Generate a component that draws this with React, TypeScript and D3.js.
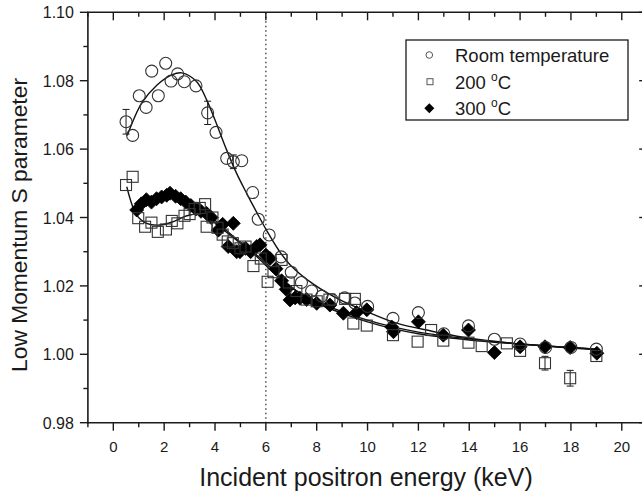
import React from "react";
import * as d3 from "d3";

// ---- Data ----
// [energy keV, S, error]
const roomTemp: [number, number, number][] = [
  [0.5, 1.068, 0.0036], [0.76, 1.064, 0], [1.02, 1.0756, 0], [1.29, 1.0722, 0],
  [1.51, 1.0828, 0], [1.77, 1.0756, 0], [2.06, 1.0851, 0], [2.27, 1.0799, 0],
  [2.53, 1.082, 0], [2.79, 1.0797, 0], [3.25, 1.0785, 0], [3.71, 1.0706, 0.0034],
  [4.04, 1.0649, 0], [4.46, 1.0573, 0], [4.72, 1.0563, 0.002], [5.05, 1.0566, 0],
  [5.48, 1.0473, 0], [5.7, 1.0395, 0], [6.13, 1.0349, 0], [6.6, 1.0285, 0],
  [7.0, 1.024, 0], [7.4, 1.021, 0], [7.8, 1.0185, 0], [8.2, 1.017, 0],
  [8.6, 1.016, 0], [9.1, 1.0165, 0], [9.5, 1.015, 0], [10.0, 1.014, 0],
  [11.0, 1.0105, 0], [12.0, 1.0122, 0], [13.0, 1.006, 0], [13.97, 1.0083, 0],
  [14.99, 1.0044, 0], [16.0, 1.003, 0], [17.0, 1.002, 0], [18.0, 1.002, 0],
  [19.0, 1.0015, 0],
];

const temp200: [number, number, number][] = [
  [0.5, 1.0495, 0], [0.76, 1.0519, 0], [0.98, 1.0398, 0], [1.25, 1.0373, 0],
  [1.5, 1.0385, 0], [1.75, 1.0358, 0], [2.07, 1.0365, 0], [2.3, 1.039, 0],
  [2.52, 1.0383, 0], [2.8, 1.0405, 0], [3.0, 1.041, 0], [3.2, 1.0425, 0],
  [3.4, 1.0428, 0], [3.61, 1.0439, 0], [3.67, 1.0373, 0], [3.9, 1.04, 0],
  [4.1, 1.037, 0], [4.3, 1.035, 0], [4.5, 1.033, 0], [4.7, 1.0325, 0],
  [5.0, 1.031, 0], [5.2, 1.0315, 0], [5.51, 1.0258, 0], [5.8, 1.028, 0],
  [6.07, 1.0212, 0], [6.3, 1.024, 0], [6.62, 1.0276, 0], [6.9, 1.021, 0],
  [7.2, 1.0185, 0], [7.6, 1.016, 0], [8.0, 1.0155, 0], [8.5, 1.016, 0],
  [9.12, 1.0162, 0], [9.5, 1.0162, 0], [9.44, 1.009, 0], [9.97, 1.0084, 0],
  [11.0, 1.0056, 0], [11.97, 1.0037, 0], [12.5, 1.0071, 0], [12.98, 1.004, 0],
  [13.97, 1.0034, 0], [14.49, 1.0024, 0], [15.48, 1.0032, 0], [16.0, 1.001, 0],
  [16.98, 0.9974, 0.002], [17.97, 0.993, 0.0023], [19.0, 0.9995, 0],
];

const temp300: [number, number][] = [
  [0.92, 1.0422], [1.1, 1.044], [1.3, 1.0452], [1.5, 1.0445], [1.7, 1.0455],
  [1.9, 1.046], [2.1, 1.0465], [2.23, 1.0471], [2.45, 1.0462], [2.65, 1.0455],
  [2.85, 1.0445], [3.05, 1.0435], [3.25, 1.0425], [3.45, 1.0418], [3.67, 1.0412],
  [3.85, 1.04], [4.13, 1.0363], [4.3, 1.038], [4.52, 1.0315], [4.72, 1.0383],
  [4.85, 1.03], [4.98, 1.03], [5.2, 1.031], [5.4, 1.03], [5.64, 1.0315],
  [5.77, 1.032], [6.0, 1.029], [6.16, 1.028], [6.4, 1.025], [6.62, 1.0215],
  [6.8, 1.019], [6.95, 1.0159], [7.15, 1.0165], [7.34, 1.0164], [7.6, 1.016],
  [8.0, 1.0149], [8.52, 1.0144], [9.05, 1.012], [9.57, 1.0122], [9.97, 1.013],
  [10.95, 1.008], [11.02, 1.0066], [12.0, 1.0095], [12.98, 1.0056], [13.97, 1.0071],
  [14.99, 1.0005], [16.0, 1.0022], [16.98, 1.0022], [17.97, 1.002], [19.02, 1.0003],
];

// fitted curves
const fitRoom: [number, number][] = [
  [0.55, 1.064], [1.12, 1.0735], [1.71, 1.0787], [2.3, 1.0817], [2.69, 1.0823],
  [3.28, 1.0797], [3.67, 1.0744], [4.0, 1.0685], [4.46, 1.0597], [4.85, 1.0529],
  [5.25, 1.047], [5.64, 1.0415], [6.03, 1.0362], [6.5, 1.0305], [6.95, 1.0262],
  [7.87, 1.0205], [8.92, 1.0159], [9.97, 1.0125], [11.15, 1.0091], [12.5, 1.0068],
  [13.77, 1.005], [15.74, 1.0032], [19.0, 1.0013],
];
const fit200: [number, number][] = [
  [0.53, 1.049], [0.92, 1.0407], [1.31, 1.0383], [1.84, 1.0378], [2.36, 1.0388],
  [2.89, 1.0405], [3.4, 1.041], [3.9, 1.039], [4.4, 1.036], [5.0, 1.0325],
  [5.5, 1.0295], [6.0, 1.026], [6.5, 1.0225], [7.0, 1.0195], [8.0, 1.0155],
  [9.0, 1.0125], [10, 1.01], [11, 1.008], [12, 1.0065], [14, 1.0045],
  [16, 1.003], [19, 1.0015],
];
const fit300: [number, number][] = [
  [0.92, 1.0425], [1.3, 1.0445], [1.8, 1.0458], [2.3, 1.0463], [2.8, 1.0452],
  [3.3, 1.0432], [3.8, 1.0405], [4.3, 1.0372], [4.8, 1.034], [5.3, 1.031],
  [5.8, 1.028], [6.3, 1.0245], [6.8, 1.021], [7.3, 1.018], [8.0, 1.015],
  [9.0, 1.012], [10, 1.0095], [11, 1.0075], [12, 1.006], [14, 1.0042],
  [16, 1.003], [19, 1.0015],
];

const xTicks = [0, 2, 4, 6, 8, 10, 12, 14, 16, 18, 20];
const xMinor = [-1, 1, 3, 5, 7, 9, 11, 13, 15, 17, 19, 21];
const yTicks = [0.98, 1.0, 1.02, 1.04, 1.06, 1.08, 1.1];
const yMinor = [0.99, 1.01, 1.03, 1.05, 1.07, 1.09];
const dividerEnergy = 6;
const legendLabels = ["Room temperature", "200 ", "300 "];

const W = 642;
const H = 494;
const font = "'Liberation Sans', Arial, sans-serif";
const ink = "#1a1a1a";

export default function App() {
  const x = d3.scaleLinear().domain([-1, 21]).range([87.9, 647.2]);
  const y = d3.scaleLinear().domain([0.98, 1.1]).range([422.7, 12.3]);
  const [x0, x1] = x.range();
  const [yb, yt] = y.range();

  const line = d3
    .line<[number, number]>()
    .x((d) => x(d[0]))
    .y((d) => y(d[1]))
    .curve(d3.curveCatmullRom.alpha(0.5));

  const diamond = (cx: number, cy: number, r: number) =>
    `M${cx},${cy - r}L${cx + r},${cy}L${cx},${cy + r}L${cx - r},${cy}Z`;

  const errBar = (xv: number, yv: number, e: number, key: string) => {
    if (!e) return null;
    const cx = x(xv);
    const ya = y(yv + e);
    const yb2 = y(yv - e);
    return (
      <g key={key} stroke={ink} strokeWidth={1}>
        <line x1={cx} x2={cx} y1={ya} y2={yb2} />
        <line x1={cx - 3.5} x2={cx + 3.5} y1={ya} y2={ya} />
        <line x1={cx - 3.5} x2={cx + 3.5} y1={yb2} y2={yb2} />
      </g>
    );
  };

  return (
    <svg
      width={W}
      height={H}
      style={{ position: "absolute", left: 0, top: 0, background: "#fff" }}
      fontFamily={font}
    >
      <rect width={W} height={H} fill="#fff" />
      {/* dotted divider */}
      <line
        x1={x(dividerEnergy)}
        x2={x(dividerEnergy)}
        y1={yt}
        y2={yb}
        stroke="#333"
        strokeWidth={1.3}
        strokeDasharray="1.5,3"
      />
      {/* fits */}
      {[fitRoom, fit200, fit300].map((f, i) => (
        <path key={i} d={line(f) || ""} fill="none" stroke="#111" strokeWidth={1.4} />
      ))}
      {/* 300 C diamonds */}
      {temp300.map((d, i) => (
        <path key={"d" + i} d={diamond(x(d[0]), y(d[1]), 7)} fill="#000" stroke="#000" strokeWidth={0.8} />
      ))}
      {/* 200 C squares */}
      {temp200.map((d, i) => errBar(d[0], d[1], d[2], "se" + i))}
      {temp200.map((d, i) => (
        <rect key={"s" + i} x={x(d[0]) - 5.5} y={y(d[1]) - 5.5} width={11} height={11} fill="none" stroke="#333" strokeWidth={1.1} />
      ))}
      {/* room temp circles */}
      {roomTemp.map((d, i) => errBar(d[0], d[1], d[2], "ce" + i))}
      {roomTemp.map((d, i) => (
        <circle key={"c" + i} cx={x(d[0])} cy={y(d[1])} r={6} fill="none" stroke="#333" strokeWidth={1.1} />
      ))}

      {/* frame */}
      <g stroke={ink} strokeWidth={1.6} fill="none">
        <line x1={x0} x2={x0} y1={yt} y2={yb + 0.8} />
        <line x1={x0 - 0.8} x2={W + 10} y1={yb} y2={yb} />
        <line x1={x0 - 0.8} x2={W + 10} y1={yt} y2={yt} />
        <line x1={x1} x2={x1} y1={yt} y2={yb} />
      </g>
      {/* x ticks bottom (out) and top (in); y ticks left (out) right (in) */}
      <g stroke={ink} strokeWidth={1.4}>
        {xTicks.map((t) => (
          <g key={"xt" + t}>
            <line x1={x(t)} x2={x(t)} y1={yb} y2={yb + 8} />
            <line x1={x(t)} x2={x(t)} y1={yt} y2={yt + 8} />
          </g>
        ))}
        {xMinor.map((t) => (
          <g key={"xm" + t}>
            <line x1={x(t)} x2={x(t)} y1={yb} y2={yb + 4.5} />
            <line x1={x(t)} x2={x(t)} y1={yt} y2={yt + 4.5} />
          </g>
        ))}
        {yTicks.map((t) => (
          <g key={"yt" + t}>
            <line x1={x0 - 8} x2={x0} y1={y(t)} y2={y(t)} />
            <line x1={x1 - 8} x2={x1} y1={y(t)} y2={y(t)} />
          </g>
        ))}
        {yMinor.map((t) => (
          <g key={"ym" + t}>
            <line x1={x0 - 4.5} x2={x0} y1={y(t)} y2={y(t)} />
            <line x1={x1 - 4.5} x2={x1} y1={y(t)} y2={y(t)} />
          </g>
        ))}
      </g>
      {/* tick labels */}
      <g fill={ink}>
        {xTicks.map((t) => (
          <text key={"xl" + t} x={x(t)} y={yb + 29.5} textAnchor="middle" fontSize={15}>
            {t}
          </text>
        ))}
        {yTicks.map((t) => (
          <text key={"yl" + t} x={x0 - 14} y={y(t) + 6} textAnchor="end" fontSize={16}>
            {d3.format(".2f")(t)}
          </text>
        ))}
      </g>
      {/* axis titles */}
      <text x={366} y={486} textAnchor="middle" fontSize={25} fill={ink}>
        Incident positron energy (keV)
      </text>
      <text
        transform={`translate(27,${225}) rotate(-90)`}
        textAnchor="middle"
        fontSize={22.8}
        fill={ink}
      >
        Low Momentum S parameter
      </text>

      {/* legend */}
      <g>
        <rect x={406} y={40} width={222} height={80} fill="#fff" stroke={ink} strokeWidth={1.3} />
        <circle cx={429.3} cy={55} r={3.3} fill="none" stroke="#555" strokeWidth={1} />
        <rect x={427} y={78.7} width={6} height={6} fill="none" stroke="#555" strokeWidth={1} />
        <path d={diamond(429.3, 108.3, 5)} fill="#000" />
        <g fill={ink} fontSize={18.5}>
          <text x={455} y={62}>{legendLabels[0]}</text>
          <text x={455} y={88.5}>
            {legendLabels[1]}
            <tspan fontSize={12} dy={-8}>o</tspan>
            <tspan dy={8}>C</tspan>
          </text>
          <text x={455} y={115}>
            {legendLabels[2]}
            <tspan fontSize={12} dy={-8}>o</tspan>
            <tspan dy={8}>C</tspan>
          </text>
        </g>
      </g>
    </svg>
  );
}
